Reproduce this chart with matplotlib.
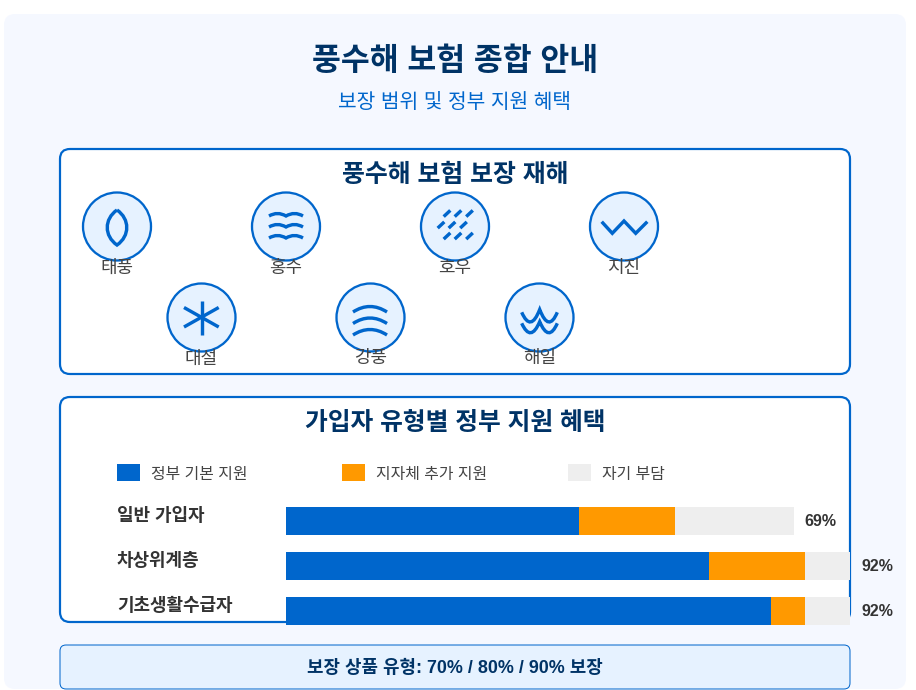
import matplotlib
matplotlib.use("Agg")
import matplotlib.pyplot as plt
from matplotlib.patches import FancyBboxPatch, Circle, PathPatch
from matplotlib.path import Path

FONT = ['Liberation Sans', 'Noto Sans CJK KR', 'DejaVu Sans']
plt.rcParams['font.family'] = FONT

# data
hazards = ['태풍', '홍수', '호우', '지진', '대설', '강풍', '해일']
groups = ['일반 가입자', '차상위계층', '기초생활수급자']
gov_share = [52, 75, 86]
local_share = [17, 17, 6]
self_share = [21, 8, 8]
total_labels = ['69%', '92%', '92%']
legend_labels = ['정부 기본 지원', '지자체 추가 지원', '자기 부담']

BLUE = '#0066cc'
NAVY = '#003366'
ORANGE = '#ff9900'
GREY = '#eeeeee'
LIGHT = '#e6f2ff'
PX = 0.72  # css px to pt at dpi 100

fig = plt.figure(figsize=(9.16, 6.9), dpi=100, facecolor='white')
ax = fig.add_axes([0, 0, 1, 1])
ax.set_xlim(0, 916)
ax.set_ylim(690, 0)
ax.axis('off')


def box(x0, y0, x1, y1, r, fc, ec='none', lw=0, z=1):
    ax.add_patch(FancyBboxPatch((x0, y0), x1 - x0, y1 - y0,
                                boxstyle=f'round,pad=0,rounding_size={r}',
                                fc=fc, ec=ec, lw=lw * PX, zorder=z))


def stroke(verts, codes=None, lw=3.4):
    if codes is None:
        codes = [Path.MOVETO] + [Path.LINETO] * (len(verts) - 1)
    ax.add_patch(PathPatch(Path(verts, codes), fc='none', ec=BLUE, lw=lw * PX,
                           capstyle='butt', joinstyle='miter', zorder=4))


def quads(points, lw=3.4):
    # start point then (control, end) pairs
    codes = [Path.MOVETO] + [Path.CURVE3] * (len(points) - 1)
    stroke(points, codes, lw)


# backgrounds
box(4, 14, 906, 689, 11, '#f5f8ff')
box(60, 149, 850, 374, 10, 'white', BLUE, 2.2, z=2)
box(60, 397, 850, 622, 10, 'white', BLUE, 2.2, z=2)
box(60, 645, 850, 689, 6, LIGHT, BLUE, 1, z=2)

# headings
ax.text(455, 62, '풍수해 보험 종합 안내', fontsize=31.4 * PX, fontweight='bold', color=NAVY,
        ha='center', va='center', zorder=6)
ax.text(455, 103, '보장 범위 및 정부 지원 혜택', fontsize=20.3 * PX, color=BLUE,
        ha='center', va='center', zorder=6)
ax.text(455, 175, '풍수해 보험 보장 재해', fontsize=24.9 * PX, fontweight='bold', color=NAVY,
        ha='center', va='center', zorder=6)
ax.text(455, 423.5, '가입자 유형별 정부 지원 혜택', fontsize=24.8 * PX, fontweight='bold', color=NAVY,
        ha='center', va='center', zorder=6)
ax.text(455, 668, '보장 상품 유형: 70% / 80% / 90% 보장', fontsize=17.9 * PX, fontweight='bold',
        color=NAVY, ha='center', va='center', zorder=6)

# hazard badges
centers = [(117, 226), (286, 226), (455, 226), (624, 226), (201.5, 317), (370.5, 317), (539.5, 317)]
for (cx, cy), name in zip(centers, hazards):
    ax.add_patch(Circle((cx, cy + 0.5), 34, fc=LIGHT, ec=BLUE, lw=2.3 * PX, zorder=3))
    ax.text(cx, cy + 46.5, name, fontsize=18 * PX, color='#444444', ha='center', va='baseline', zorder=6)

# typhoon
stroke([(117, 210), (104, 219), (104, 236), (117, 245), (130, 236), (130, 219), (117, 210)],
       [Path.MOVETO] + [Path.CURVE4] * 6)
# flood
for y in (216, 227, 238):
    quads([(269, y), (277.5, y - 5), (286, y), (294.5, y - 5), (303, y)])
# heavy rain
for y, xs in ((213.5, (447, 458, 469.5)), (225, (441, 452, 463.5)), (236, (447, 458, 469.5))):
    for x in xs:
        stroke([(x - 3.3, y + 3.1), (x + 3.3, y - 3.1)])
# earthquake
stroke([(601.7, 221.7), (612.3, 233.3), (624, 221), (635.7, 233.3), (647.3, 221.7)])
# snow
stroke([(201.5, 300.5), (201.5, 335)])
stroke([(184, 307.5), (218.7, 327)])
stroke([(184, 327), (218.7, 307.5)])
# wind
for y in (312, 323.5, 335):
    quads([(353, y), (370, y - 11), (387, y)])
# tsunami
for y, peak, ctrl in ((312.3, 309.5, 333), (323.3, 321.7, 343)):
    quads([(521.7, y), (530.7, ctrl), (539.7, peak), (548.7, ctrl), (557.3, y)])

# legend
for x, color, label in zip((117, 342, 568), (BLUE, ORANGE, GREY), legend_labels):
    ax.fill_between([x, x + 23], 464, 481, color=color, lw=0, zorder=3)
    ax.text(x + 34, 478.5, label, fontsize=15.9 * PX, color='#444444', ha='left', va='baseline', zorder=6)

# row labels
for y, group in zip((521, 566, 611), groups):
    ax.text(117, y, group, fontsize=18 * PX, fontweight='bold', color='#333333',
            ha='left', va='baseline', zorder=6)

# stacked bars, 100% spans x 286..850 px
bar_ax = fig.add_axes([286 / 916, 1 - 625 / 690, 564 / 916, 118 / 690], zorder=5)
bar_ax.patch.set_alpha(0)
bar_ax.axis('off')
rows = list(range(len(groups)))
bar_h = 28 / 45
left = [g + l for g, l in zip(gov_share, local_share)]
bar_ax.barh(rows, gov_share, height=bar_h, color=BLUE)
bar_ax.barh(rows, local_share, left=gov_share, height=bar_h, color=ORANGE)
bar_ax.barh(rows, self_share, left=left, height=bar_h, color=GREY)
bar_ax.set_xlim(0, 100)
bar_ax.set_ylim(2 + bar_h / 2, -bar_h / 2)
for i, label in enumerate(total_labels):
    bar_ax.annotate(label, (left[i] + self_share[i], i), xytext=(11 * PX, -5 * PX), textcoords='offset points',
                    fontsize=16 * PX, fontweight='bold', color='#333333', ha='left', va='baseline',
                    annotation_clip=False)

fig.savefig('out.png', dpi=100, facecolor='white')
